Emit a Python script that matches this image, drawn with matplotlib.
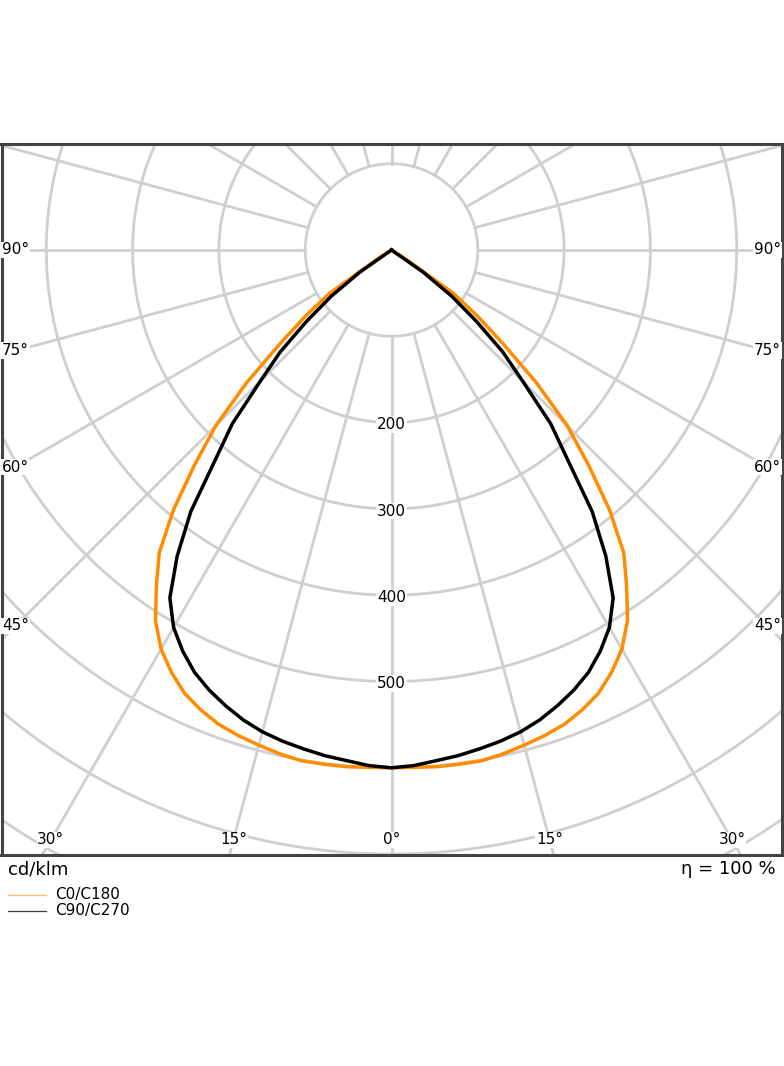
import numpy as np
import matplotlib
matplotlib.use("Agg")
import matplotlib.pyplot as plt
from matplotlib.lines import Line2D

# ---- data (cd/klm), gamma in degrees from nadir ----
gamma_deg = [0, 2.5, 5, 7.5, 10, 12.5, 15, 17.5, 20, 22.5, 25, 27.5, 30, 32.5,
             35, 37.5, 40, 42.5, 45, 47.5, 50, 52.5, 55, 57.5, 60, 90]
c0_c180 = [600, 600, 601, 601, 601, 598, 594, 590, 585, 577, 567, 552, 534, 509,
           475, 442, 393, 338, 288, 228, 168, 125, 88, 20, 0, 0]
c90_c270 = [600, 598, 594, 591, 587, 583, 578, 571, 562, 552, 540, 524, 505, 478,
            433, 382, 318, 273, 215, 175, 128, 88, 45, 0, 0, 0]
series_labels = ["C0/C180", "C90/C270"]
series_colors = ["#ff8c00", "#000000"]
radial_tick_values = [200, 300, 400, 500]
grid_circle_values = [100, 200, 300, 400, 500, 600, 700, 800]
side_angle_labels = [45, 60, 75, 90]
bottom_angle_labels = [0, 15, 30]
unit_text = "cd/klm"
eta_text = "η = 100 %"

W, H = 784, 1066
fig = plt.figure(figsize=(W / 100, H / 100), dpi=100)

# frame in pixels
x0p, x1p, y0p, y1p = 1.5, 781.5, 143.5, 855.0
cx, cy = 391.5, 250.0
s = 0.863  # px per cd/klm

ax = fig.add_axes([x0p / W, 1 - y1p / H, (x1p - x0p) / W, (y1p - y0p) / H])
xl = (cx - x0p) / s
xr = (x1p - cx) / s
yt = (cy - y0p) / s
yb = -(y1p - cy) / s
ax.set_xlim(-xl, xr)
ax.set_ylim(yb, yt)
ax.set_xticks([])
ax.set_yticks([])
for sp in ax.spines.values():
    sp.set_color("#444444")
    sp.set_linewidth(2.2)

grid_c = "#cfcfcf"
grid_lw = 2.0
th = np.linspace(0, 2 * np.pi, 721)
for r in grid_circle_values:
    ax.plot(r * np.sin(th), -r * np.cos(th), color=grid_c, lw=grid_lw, zorder=1)
for a in range(0, 360, 15):
    ar = np.deg2rad(a)
    rr = np.array([grid_circle_values[0], 2000])
    ax.plot(rr * np.sin(ar), -rr * np.cos(ar), color=grid_c, lw=grid_lw, zorder=1)

# curves
g = np.deg2rad(np.array(gamma_deg, dtype=float))
for vals, col in zip([c0_c180, c90_c270], series_colors):
    r = np.array(vals, dtype=float)
    xr_ = r * np.sin(g)
    yr_ = -r * np.cos(g)
    x = np.concatenate([-xr_[::-1], xr_[1:]])
    y = np.concatenate([yr_[::-1], yr_[1:]])
    ax.plot(x, y, color=col, lw=2.5, zorder=3, solid_joinstyle="round")

bb = dict(facecolor="white", edgecolor="none", pad=0.5)
# radial value labels
for v in radial_tick_values:
    ax.text(0, -v - 2.5, str(v), ha="center", va="center", fontsize=11, bbox=bb, zorder=4)

# side angle labels
inset = 14 / s
for a in side_angle_labels:
    ar = np.deg2rad(a)
    for sign, xe in [(-1, xl), (1, xr)]:
        xa = xe - inset
        ya = -xa / np.tan(ar) if a != 90 else 0.0
        ax.text(sign * xa, ya, f"{a}°", ha="center", va="center", fontsize=11, bbox=bb, zorder=4)

# bottom angle labels
yl = -(840 - cy) / s
for a in bottom_angle_labels:
    ar = np.deg2rad(a)
    xa = -yl * np.tan(ar)
    for sign in ([1] if a == 0 else [-1, 1]):
        ax.text(sign * xa, yl, f"{a}°", ha="center", va="center", fontsize=11, bbox=bb, zorder=4)

# texts below
fig.text(8 / W, 1 - 869 / H, unit_text, ha="left", va="center", fontsize=13)
fig.text(776 / W, 1 - 869 / H, eta_text, ha="right", va="center", fontsize=13)

# legend
legend_styles = [dict(lw=1.0, alpha=0.55), dict(lw=0.9, alpha=0.75)]
for i, (lab, col) in enumerate(zip(series_labels, series_colors)):
    yy = 1 - (895 + 16 * i) / H
    fig.add_artist(Line2D([8 / W, 46 / W], [yy, yy], color=col, **legend_styles[i]))
    fig.text(55 / W, yy, lab, ha="left", va="center", fontsize=11)

fig.savefig("out.png", dpi=100, facecolor="white")
